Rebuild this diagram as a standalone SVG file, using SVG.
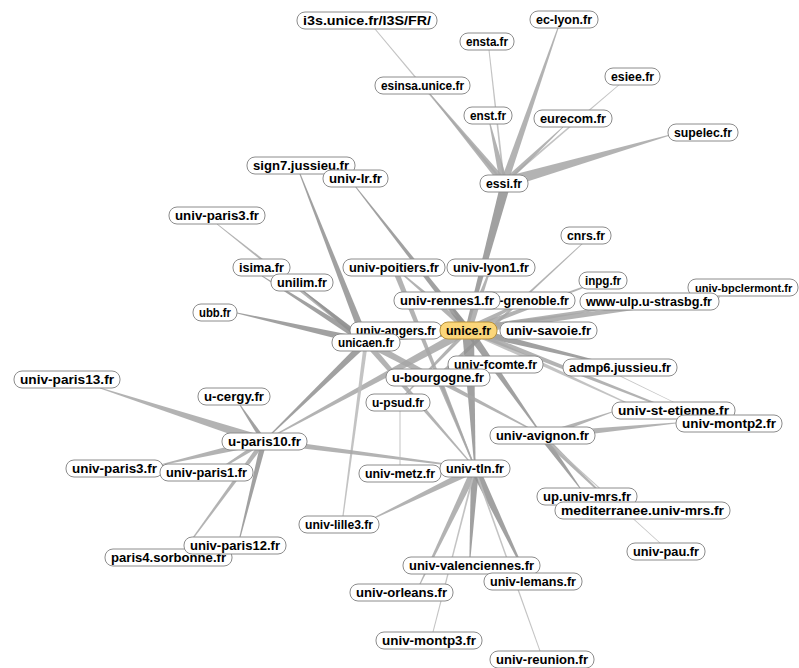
<svg xmlns="http://www.w3.org/2000/svg" width="799" height="668" viewBox="0 0 799 668">
<style>
.e1{fill:#909090;fill-opacity:.85}
.e2{fill:#a6a6a6;fill-opacity:.85}
.e3{fill:#bdbdbd;fill-opacity:.9}
.n rect{fill:#fff;stroke:#8c8c8c;stroke-width:1}
.n text{font-family:"Liberation Sans",Arial,sans-serif;font-size:12px;font-weight:bold;fill:#000}
#n-unice rect{fill:#fbd67a;stroke:#b8913a}
</style>
<rect width="799" height="668" fill="#fff"/>
<g id="connectors">
<polygon class="e3" points="502.5,183 374.4,29 375.6,29 505.5,183"/>
<polygon class="e2" points="499,183 429.4,94 430.6,94 509,183"/>
<polygon class="e3" points="503,183 488.5,50 489.5,50 505,183"/>
<polygon class="e2" points="500,183 489.4,124 490.6,124 508,183"/>
<polygon class="e2" points="500,183 557.4,28 558.6,28 508,183"/>
<polygon class="e3" points="504,181.5 620,83.4 620,84.6 504,184.5"/>
<polygon class="e2" points="504,179 563,126.4 563,127.6 504,187"/>
<polygon class="e2" points="504,177 670,134.4 670,135.6 504,189"/>
<polygon class="e1" points="499,190 467,322 470,322 509,190"/>
<polygon class="e2" points="468,326 394,266.4 394,267.6 468,334"/>
<polygon class="e2" points="464,330 490.4,267 491.6,267 472,330"/>
<polygon class="e2" points="465,330 446.4,300 447.6,300 471,330"/>
<polygon class="e2" points="435,377 582.4,243 583.6,243 441,377"/>
<polygon class="e2" points="468,327 603,279.4 603,280.6 468,333"/>
<polygon class="e2" points="468,327 649,300.4 649,301.6 468,333"/>
<polygon class="e2" points="468,326 720,296.4 720,297.6 468,334"/>
<polygon class="e2" points="468,326 526,299.4 526,300.6 468,334"/>
<polygon class="e1" points="468,326 620,366.4 620,367.6 468,334"/>
<polygon class="e1" points="468,325 366,341.4 366,342.6 468,335"/>
<polygon class="e1" points="463,330 541.4,435 542.6,435 473,330"/>
<polygon class="e1" points="462,330 474.4,468 475.6,468 474,330"/>
<polygon class="e2" points="468,325 264,440.4 264,441.6 468,335"/>
<polygon class="e2" points="465,330 397.4,402 398.6,402 471,330"/>
<polygon class="e3" points="468,327 640,408.4 640,409.6 468,333"/>
<polygon class="e2" points="468,327 700,420.4 700,421.6 468,333"/>
<polygon class="e1" points="464,330 354.4,186 355.6,186 472,330"/>
<polygon class="e1" points="362,342 299.4,174 300.6,174 370,342"/>
<polygon class="e2" points="366,339 217,223.4 217,224.6 366,345"/>
<polygon class="e1" points="366,338 262,275.4 262,276.6 366,346"/>
<polygon class="e1" points="366,338 302,289.4 302,290.6 366,346"/>
<polygon class="e1" points="366,338 237,312.4 237,313.6 366,346"/>
<polygon class="e1" points="361,342 263.4,441 264.6,441 371,342"/>
<polygon class="e3" points="364,342 342.4,516 343.6,516 368,342"/>
<polygon class="e2" points="362,342 474.4,468 475.6,468 370,342"/>
<polygon class="e2" points="366,338 542,434.4 542,435.6 366,346"/>
<polygon class="e2" points="391,267 474.4,468 475.6,468 397,267"/>
<polygon class="e2" points="264,436 100,387.4 100,388.6 264,446"/>
<polygon class="e1" points="261,441 239.4,405 240.6,405 267,441"/>
<polygon class="e2" points="264,437 160,464.4 160,465.6 264,445"/>
<polygon class="e2" points="264,438 215,471.4 215,472.6 264,444"/>
<polygon class="e1" points="261,441 239.4,537 240.6,537 267,441"/>
<polygon class="e2" points="261,441 184.4,549 185.6,549 267,441"/>
<polygon class="e2" points="264,438 475,467.4 475,468.6 264,444"/>
<polygon class="e1" points="471,469 469.4,557 470.6,557 479,469"/>
<polygon class="e2" points="471,469 419.4,584 420.6,584 479,469"/>
<polygon class="e1" points="470,469 524.4,573 525.6,573 480,469"/>
<polygon class="e2" points="475,465 370,519.4 370,520.6 475,473"/>
<polygon class="e3" points="474,469 432.5,632 433.5,632 476,469"/>
<polygon class="e3" points="474,469 539.5,651 540.5,651 476,469"/>
<polygon class="e3" points="399.5,411 399.5,465 400.5,465 400.5,411"/>
<polygon class="e2" points="435,377 474.4,468 475.6,468 441,377"/>
<polygon class="e1" points="538,436 579.4,488 580.6,488 546,436"/>
<polygon class="e2" points="538,436 609.4,502 610.6,502 546,436"/>
<polygon class="e3" points="541,436 659.5,543 660.5,543 543,436"/>
<polygon class="e2" points="542,433 612,411.4 612,412.6 542,439"/>
<polygon class="e2" points="542,432 676,422.4 676,423.6 542,440"/>
<polygon class="e3" points="619,376 699.5,415 700.5,415 621,376"/>
</g>
<g id="n-i3s" class="n"><rect x="297" y="12" width="140" height="17" rx="8"/><text x="303" y="25" textLength="128" lengthAdjust="spacingAndGlyphs">i3s.unice.fr/I3S/FR/</text></g>
<g id="n-ensta" class="n"><rect x="460" y="33" width="54" height="17" rx="8"/><text x="466" y="46" textLength="42" lengthAdjust="spacingAndGlyphs">ensta.fr</text></g>
<g id="n-eclyon" class="n"><rect x="530" y="11" width="68" height="17" rx="8"/><text x="536" y="24" textLength="56" lengthAdjust="spacingAndGlyphs">ec-lyon.fr</text></g>
<g id="n-esinsa" class="n"><rect x="375" y="77" width="95" height="17" rx="8"/><text x="381" y="90" textLength="83" lengthAdjust="spacingAndGlyphs">esinsa.unice.fr</text></g>
<g id="n-esiee" class="n"><rect x="605" y="68" width="55" height="17" rx="8"/><text x="611" y="81" textLength="43" lengthAdjust="spacingAndGlyphs">esiee.fr</text></g>
<g id="n-enst" class="n"><rect x="464" y="107" width="48" height="17" rx="8"/><text x="470" y="120" textLength="36" lengthAdjust="spacingAndGlyphs">enst.fr</text></g>
<g id="n-eurecom" class="n"><rect x="534" y="110" width="78" height="17" rx="8"/><text x="540" y="123" textLength="66" lengthAdjust="spacingAndGlyphs">eurecom.fr</text></g>
<g id="n-supelec" class="n"><rect x="668" y="124" width="70" height="17" rx="8"/><text x="674" y="137" textLength="58" lengthAdjust="spacingAndGlyphs">supelec.fr</text></g>
<g id="n-essi" class="n"><rect x="480" y="175" width="48" height="17" rx="8"/><text x="486" y="188" textLength="36" lengthAdjust="spacingAndGlyphs">essi.fr</text></g>
<g id="n-sign7" class="n"><rect x="247" y="157" width="108" height="17" rx="8"/><text x="253" y="170" textLength="96" lengthAdjust="spacingAndGlyphs">sign7.jussieu.fr</text></g>
<g id="n-univlr" class="n"><rect x="323" y="170" width="65" height="17" rx="8"/><text x="329" y="183" textLength="53" lengthAdjust="spacingAndGlyphs">univ-lr.fr</text></g>
<g id="n-univparis3" class="n"><rect x="169" y="207" width="96" height="17" rx="8"/><text x="175" y="220" textLength="84" lengthAdjust="spacingAndGlyphs">univ-paris3.fr</text></g>
<g id="n-cnrs" class="n"><rect x="561" y="227" width="50" height="17" rx="8"/><text x="567" y="240" textLength="38" lengthAdjust="spacingAndGlyphs">cnrs.fr</text></g>
<g id="n-isima" class="n"><rect x="233" y="259" width="57" height="17" rx="8"/><text x="239" y="272" textLength="45" lengthAdjust="spacingAndGlyphs">isima.fr</text></g>
<g id="n-unilim" class="n"><rect x="271" y="274" width="62" height="17" rx="8"/><text x="277" y="287" textLength="50" lengthAdjust="spacingAndGlyphs">unilim.fr</text></g>
<g id="n-poitiers" class="n"><rect x="343" y="259" width="102" height="17" rx="8"/><text x="349" y="272" textLength="90" lengthAdjust="spacingAndGlyphs">univ-poitiers.fr</text></g>
<g id="n-lyon1" class="n"><rect x="447" y="259" width="88" height="17" rx="8"/><text x="453" y="272" textLength="76" lengthAdjust="spacingAndGlyphs">univ-lyon1.fr</text></g>
<g id="n-inpg" class="n"><rect x="579" y="272" width="48" height="17" rx="8"/><text x="585" y="285" textLength="36" lengthAdjust="spacingAndGlyphs">inpg.fr</text></g>
<g id="n-grenoble" class="n"><rect x="478" y="292" width="97" height="17" rx="8"/><text x="484" y="305" textLength="85" lengthAdjust="spacingAndGlyphs">ujf-grenoble.fr</text></g>
<g id="n-rennes1" class="n"><rect x="394" y="292" width="106" height="17" rx="8"/><text x="400" y="305" textLength="94" lengthAdjust="spacingAndGlyphs">univ-rennes1.fr</text></g>
<g id="n-clermont" class="n"><rect x="688" y="279" width="110" height="17" rx="8"/><text x="695" y="292" style="font-size:11px">univ-bpclermont.fr</text></g>
<g id="n-ulp" class="n"><rect x="580" y="293" width="139" height="17" rx="8"/><text x="586" y="306" textLength="126" lengthAdjust="spacingAndGlyphs">www-ulp.u-strasbg.fr</text></g>
<g id="n-ubb" class="n"><rect x="193" y="304" width="44" height="17" rx="8"/><text x="199" y="317" textLength="32" lengthAdjust="spacingAndGlyphs">ubb.fr</text></g>
<g id="n-angers" class="n"><rect x="350" y="322" width="92" height="17" rx="8"/><text x="356" y="335" textLength="80" lengthAdjust="spacingAndGlyphs">univ-angers.fr</text></g>
<g id="n-savoie" class="n"><rect x="500" y="322" width="97" height="17" rx="8"/><text x="506" y="335" textLength="85" lengthAdjust="spacingAndGlyphs">univ-savoie.fr</text></g>
<g id="n-unice" class="n"><rect x="440" y="322" width="57" height="17" rx="8"/><text x="446" y="335" textLength="45" lengthAdjust="spacingAndGlyphs">unice.fr</text></g>
<g id="n-unicaen" class="n"><rect x="332" y="334" width="68" height="17" rx="8"/><text x="338" y="347" textLength="56" lengthAdjust="spacingAndGlyphs">unicaen.fr</text></g>
<g id="n-fcomte" class="n"><rect x="448" y="356" width="95" height="17" rx="8"/><text x="454" y="369" textLength="83" lengthAdjust="spacingAndGlyphs">univ-fcomte.fr</text></g>
<g id="n-admp6" class="n"><rect x="563" y="359" width="114" height="17" rx="8"/><text x="569" y="372" textLength="102" lengthAdjust="spacingAndGlyphs">admp6.jussieu.fr</text></g>
<g id="n-bourgogne" class="n"><rect x="386" y="369" width="104" height="17" rx="8"/><text x="392" y="382" textLength="92" lengthAdjust="spacingAndGlyphs">u-bourgogne.fr</text></g>
<g id="n-paris13" class="n"><rect x="14" y="371" width="106" height="17" rx="8"/><text x="20" y="384" textLength="94" lengthAdjust="spacingAndGlyphs">univ-paris13.fr</text></g>
<g id="n-cergy" class="n"><rect x="198" y="388" width="72" height="17" rx="8"/><text x="204" y="401" textLength="60" lengthAdjust="spacingAndGlyphs">u-cergy.fr</text></g>
<g id="n-psud" class="n"><rect x="366" y="394" width="64" height="17" rx="8"/><text x="372" y="407" textLength="52" lengthAdjust="spacingAndGlyphs">u-psud.fr</text></g>
<g id="n-stetienne" class="n"><rect x="612" y="402" width="123" height="17" rx="8"/><text x="618" y="415" textLength="111" lengthAdjust="spacingAndGlyphs">univ-st-etienne.fr</text></g>
<g id="n-montp2" class="n"><rect x="676" y="415" width="106" height="17" rx="8"/><text x="682" y="428" textLength="94" lengthAdjust="spacingAndGlyphs">univ-montp2.fr</text></g>
<g id="n-avignon" class="n"><rect x="490" y="427" width="105" height="17" rx="8"/><text x="496" y="440" textLength="93" lengthAdjust="spacingAndGlyphs">univ-avignon.fr</text></g>
<g id="n-paris10" class="n"><rect x="222" y="433" width="85" height="17" rx="8"/><text x="228" y="446" textLength="73" lengthAdjust="spacingAndGlyphs">u-paris10.fr</text></g>
<g id="n-paris3b" class="n"><rect x="66" y="460" width="97" height="17" rx="8"/><text x="72" y="473" textLength="85" lengthAdjust="spacingAndGlyphs">univ-paris3.fr</text></g>
<g id="n-paris1" class="n"><rect x="160" y="464" width="93" height="17" rx="8"/><text x="166" y="477" textLength="81" lengthAdjust="spacingAndGlyphs">univ-paris1.fr</text></g>
<g id="n-metz" class="n"><rect x="359" y="465" width="82" height="17" rx="8"/><text x="365" y="478" textLength="70" lengthAdjust="spacingAndGlyphs">univ-metz.fr</text></g>
<g id="n-tln" class="n"><rect x="440" y="460" width="70" height="17" rx="8"/><text x="446" y="473" textLength="58" lengthAdjust="spacingAndGlyphs">univ-tln.fr</text></g>
<g id="n-lille3" class="n"><rect x="299" y="516" width="80" height="17" rx="8"/><text x="305" y="529" textLength="68" lengthAdjust="spacingAndGlyphs">univ-lille3.fr</text></g>
<g id="n-upmrs" class="n"><rect x="537" y="488" width="100" height="17" rx="8"/><text x="543" y="501" textLength="88" lengthAdjust="spacingAndGlyphs">up.univ-mrs.fr</text></g>
<g id="n-mediterranee" class="n"><rect x="555" y="502" width="175" height="17" rx="8"/><text x="561" y="515" textLength="163" lengthAdjust="spacingAndGlyphs">mediterranee.univ-mrs.fr</text></g>
<g id="n-pau" class="n"><rect x="627" y="543" width="78" height="17" rx="8"/><text x="633" y="556" textLength="66" lengthAdjust="spacingAndGlyphs">univ-pau.fr</text></g>
<g id="n-paris4" class="n"><rect x="105" y="549" width="127" height="17" rx="8"/><text x="111" y="562" textLength="115" lengthAdjust="spacingAndGlyphs">paris4.sorbonne.fr</text></g>
<g id="n-paris12" class="n"><rect x="184" y="537" width="102" height="17" rx="8"/><text x="190" y="550" textLength="90" lengthAdjust="spacingAndGlyphs">univ-paris12.fr</text></g>
<g id="n-valenciennes" class="n"><rect x="403" y="557" width="137" height="17" rx="8"/><text x="409" y="570" textLength="125" lengthAdjust="spacingAndGlyphs">univ-valenciennes.fr</text></g>
<g id="n-lemans" class="n"><rect x="484" y="573" width="98" height="17" rx="8"/><text x="490" y="586" textLength="86" lengthAdjust="spacingAndGlyphs">univ-lemans.fr</text></g>
<g id="n-orleans" class="n"><rect x="350" y="584" width="103" height="17" rx="8"/><text x="356" y="597" textLength="91" lengthAdjust="spacingAndGlyphs">univ-orleans.fr</text></g>
<g id="n-montp3" class="n"><rect x="376" y="632" width="106" height="17" rx="8"/><text x="382" y="645" textLength="94" lengthAdjust="spacingAndGlyphs">univ-montp3.fr</text></g>
<g id="n-reunion" class="n"><rect x="490" y="651" width="104" height="17" rx="8"/><text x="496" y="664" textLength="92" lengthAdjust="spacingAndGlyphs">univ-reunion.fr</text></g>
</svg>
